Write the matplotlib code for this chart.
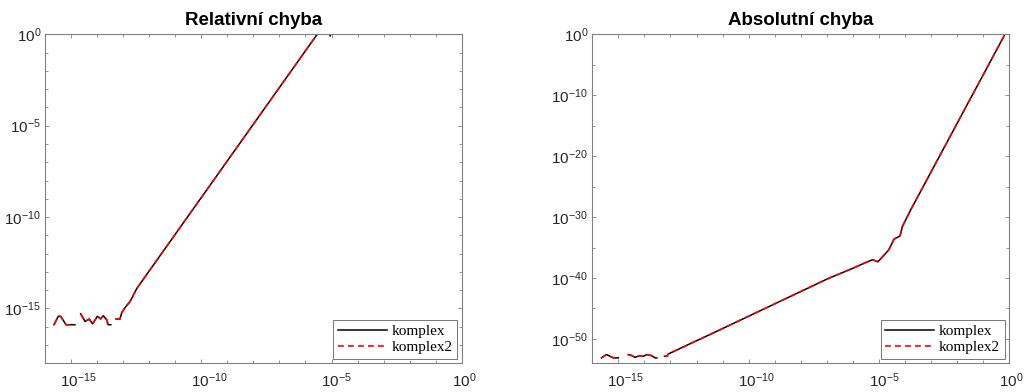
import numpy as np
import matplotlib
matplotlib.use("Agg")
import matplotlib.pyplot as plt
from matplotlib.ticker import FixedLocator, NullFormatter
from matplotlib.transforms import ScaledTranslation

plt.rcParams['font.family'] = ['Liberation Sans', 'DejaVu Sans']
plt.rcParams['mathtext.default'] = 'regular'
plt.rcParams['axes.unicode_minus'] = False

# log10(h), log10(chyba) -- NaN = nulova chyba (mezera v grafu)
rel_logh = [-15.665, -15.5, -15.41, -15.2, -14.86, np.nan,
            -14.64, -14.47, -14.31, -14.18, -14.0, -13.87, -13.77, -13.64, -13.58, -13.48, np.nan,
            -13.28, -13.13, -13.06, -12.9, -12.74, -12.48, -5.55, -5.3, np.nan,
            -5.1, -5.05, -5.0]
rel_logerr = [-15.89, -15.43, -15.43, -15.89, -15.89, np.nan,
              -15.29, -15.71, -15.58, -15.84, -15.43, -15.57, -15.40, -15.62, -15.89, -15.89, np.nan,
              -15.58, -15.58, -15.22, -14.89, -14.62, -13.9, 0.0, 0.5, np.nan,
              0.3, -0.1, 0.3]

abs_logh = [-15.65, -15.45, -15.32, -15.19, -15.0, np.nan,
            -14.62, -14.48, -14.36, -14.17, -14.04, -13.91, -13.72, -13.59, -13.52, np.nan,
            -13.23, -13.14, -13.08, -11.09, -6.985, -6.0, -5.5, -5.25, -5.04, -4.87,
            -4.62, -4.42, -4.27, -4.19, -4.1, -3.78, -0.165, 0.0]
abs_logerr = [-53.11, -52.57, -52.85, -53.11, -53.11, np.nan,
              -52.57, -52.74, -53.02, -52.74, -52.85, -52.57, -52.74, -53.11, -53.11, np.nan,
              -52.85, -52.85, -52.46, -48.48, -40.16, -38.4, -37.45, -37.0, -37.33, -36.56,
              -35.36, -33.61, -33.28, -33.07, -31.54, -28.8, 0.0, 1.3]

titles = ['Relativní chyba', 'Absolutní chyba']
legend_labels = ['komplex', 'komplex2']

xticks = [1e-15, 1e-10, 1e-5, 1e0]
yticks_rel = [1e-15, 1e-10, 1e-5, 1e0]
yticks_abs = [1e-50, 1e-40, 1e-30, 1e-20, 1e-10, 1e0]

axcol = '#808080'
txtcol = '#262626'

fig = plt.figure(figsize=(10.24, 3.92), dpi=100)
ax1 = fig.add_axes([0.0442, 0.0732, 0.4066, 0.8393])
ax2 = fig.add_axes([0.5784, 0.0732, 0.4072, 0.8393])

datasets = [(rel_logh, rel_logerr, (1e-18, 1e0), yticks_rel, 10.0 ** np.arange(-18, 1)),
            (abs_logh, abs_logerr, (1e-54, 1e0), yticks_abs, 10.0 ** np.arange(-50, 1, 5))]

for ax, (lh, le, ylim, yt, ymin), title in zip([ax1, ax2], datasets, titles):
    h = 10.0 ** np.array(lh, dtype=float)
    e = 10.0 ** np.array(le, dtype=float)
    ax.plot(h, e, color='black', lw=1.1, label=legend_labels[0])
    ax.plot(h, e, color='#ff0000', lw=1.2, ls=(0, (3.5, 2.5)), label=legend_labels[1])
    ax.set_xscale('log')
    ax.set_yscale('log')
    ax.set_xlim(1e-16, 1e0)
    ax.set_ylim(*ylim)
    ax.xaxis.set_major_locator(FixedLocator(xticks))
    ax.xaxis.set_minor_locator(FixedLocator(10.0 ** np.arange(-16, 1)))
    ax.yaxis.set_major_locator(FixedLocator(yt))
    ax.yaxis.set_minor_locator(FixedLocator(ymin))
    ax.xaxis.set_minor_formatter(NullFormatter())
    ax.yaxis.set_minor_formatter(NullFormatter())
    ax.tick_params(which='both', direction='in', top=True, right=True,
                   color=axcol, width=0.6, labelsize=11, labelcolor=txtcol)
    ax.tick_params(which='major', length=3)
    ax.tick_params(which='minor', length=2.5)
    ax.tick_params(axis='x', pad=6)
    ax.tick_params(axis='y', pad=3)
    for s in ax.spines.values():
        s.set_color(axcol)
        s.set_linewidth(0.8)
    ax.set_title(title, fontsize=13.5, fontweight='bold', pad=7)
    leg = ax.legend(loc='lower right', fancybox=False, framealpha=1,
                    edgecolor='#606060', borderaxespad=0.3, handlelength=3.2,
                    prop={'family': 'Liberation Serif', 'size': 11},
                    labelspacing=0.15, borderpad=0.3, handletextpad=0.3)
    leg.get_frame().set_linewidth(0.6)

# popisky osy x posunute jako v MATLABu (stred vcetne exponentu)
fig.canvas.draw()
for ax in (ax1, ax2):
    for tv, lbl in zip(xticks, ax.get_xticklabels()):
        nexp = len(str(int(round(np.log10(tv)))))
        shift = 1.8 * nexp
        lbl.set_transform(lbl.get_transform() + ScaledTranslation(shift / 72, 0, fig.dpi_scale_trans))

fig.savefig('out.png', dpi=100)
